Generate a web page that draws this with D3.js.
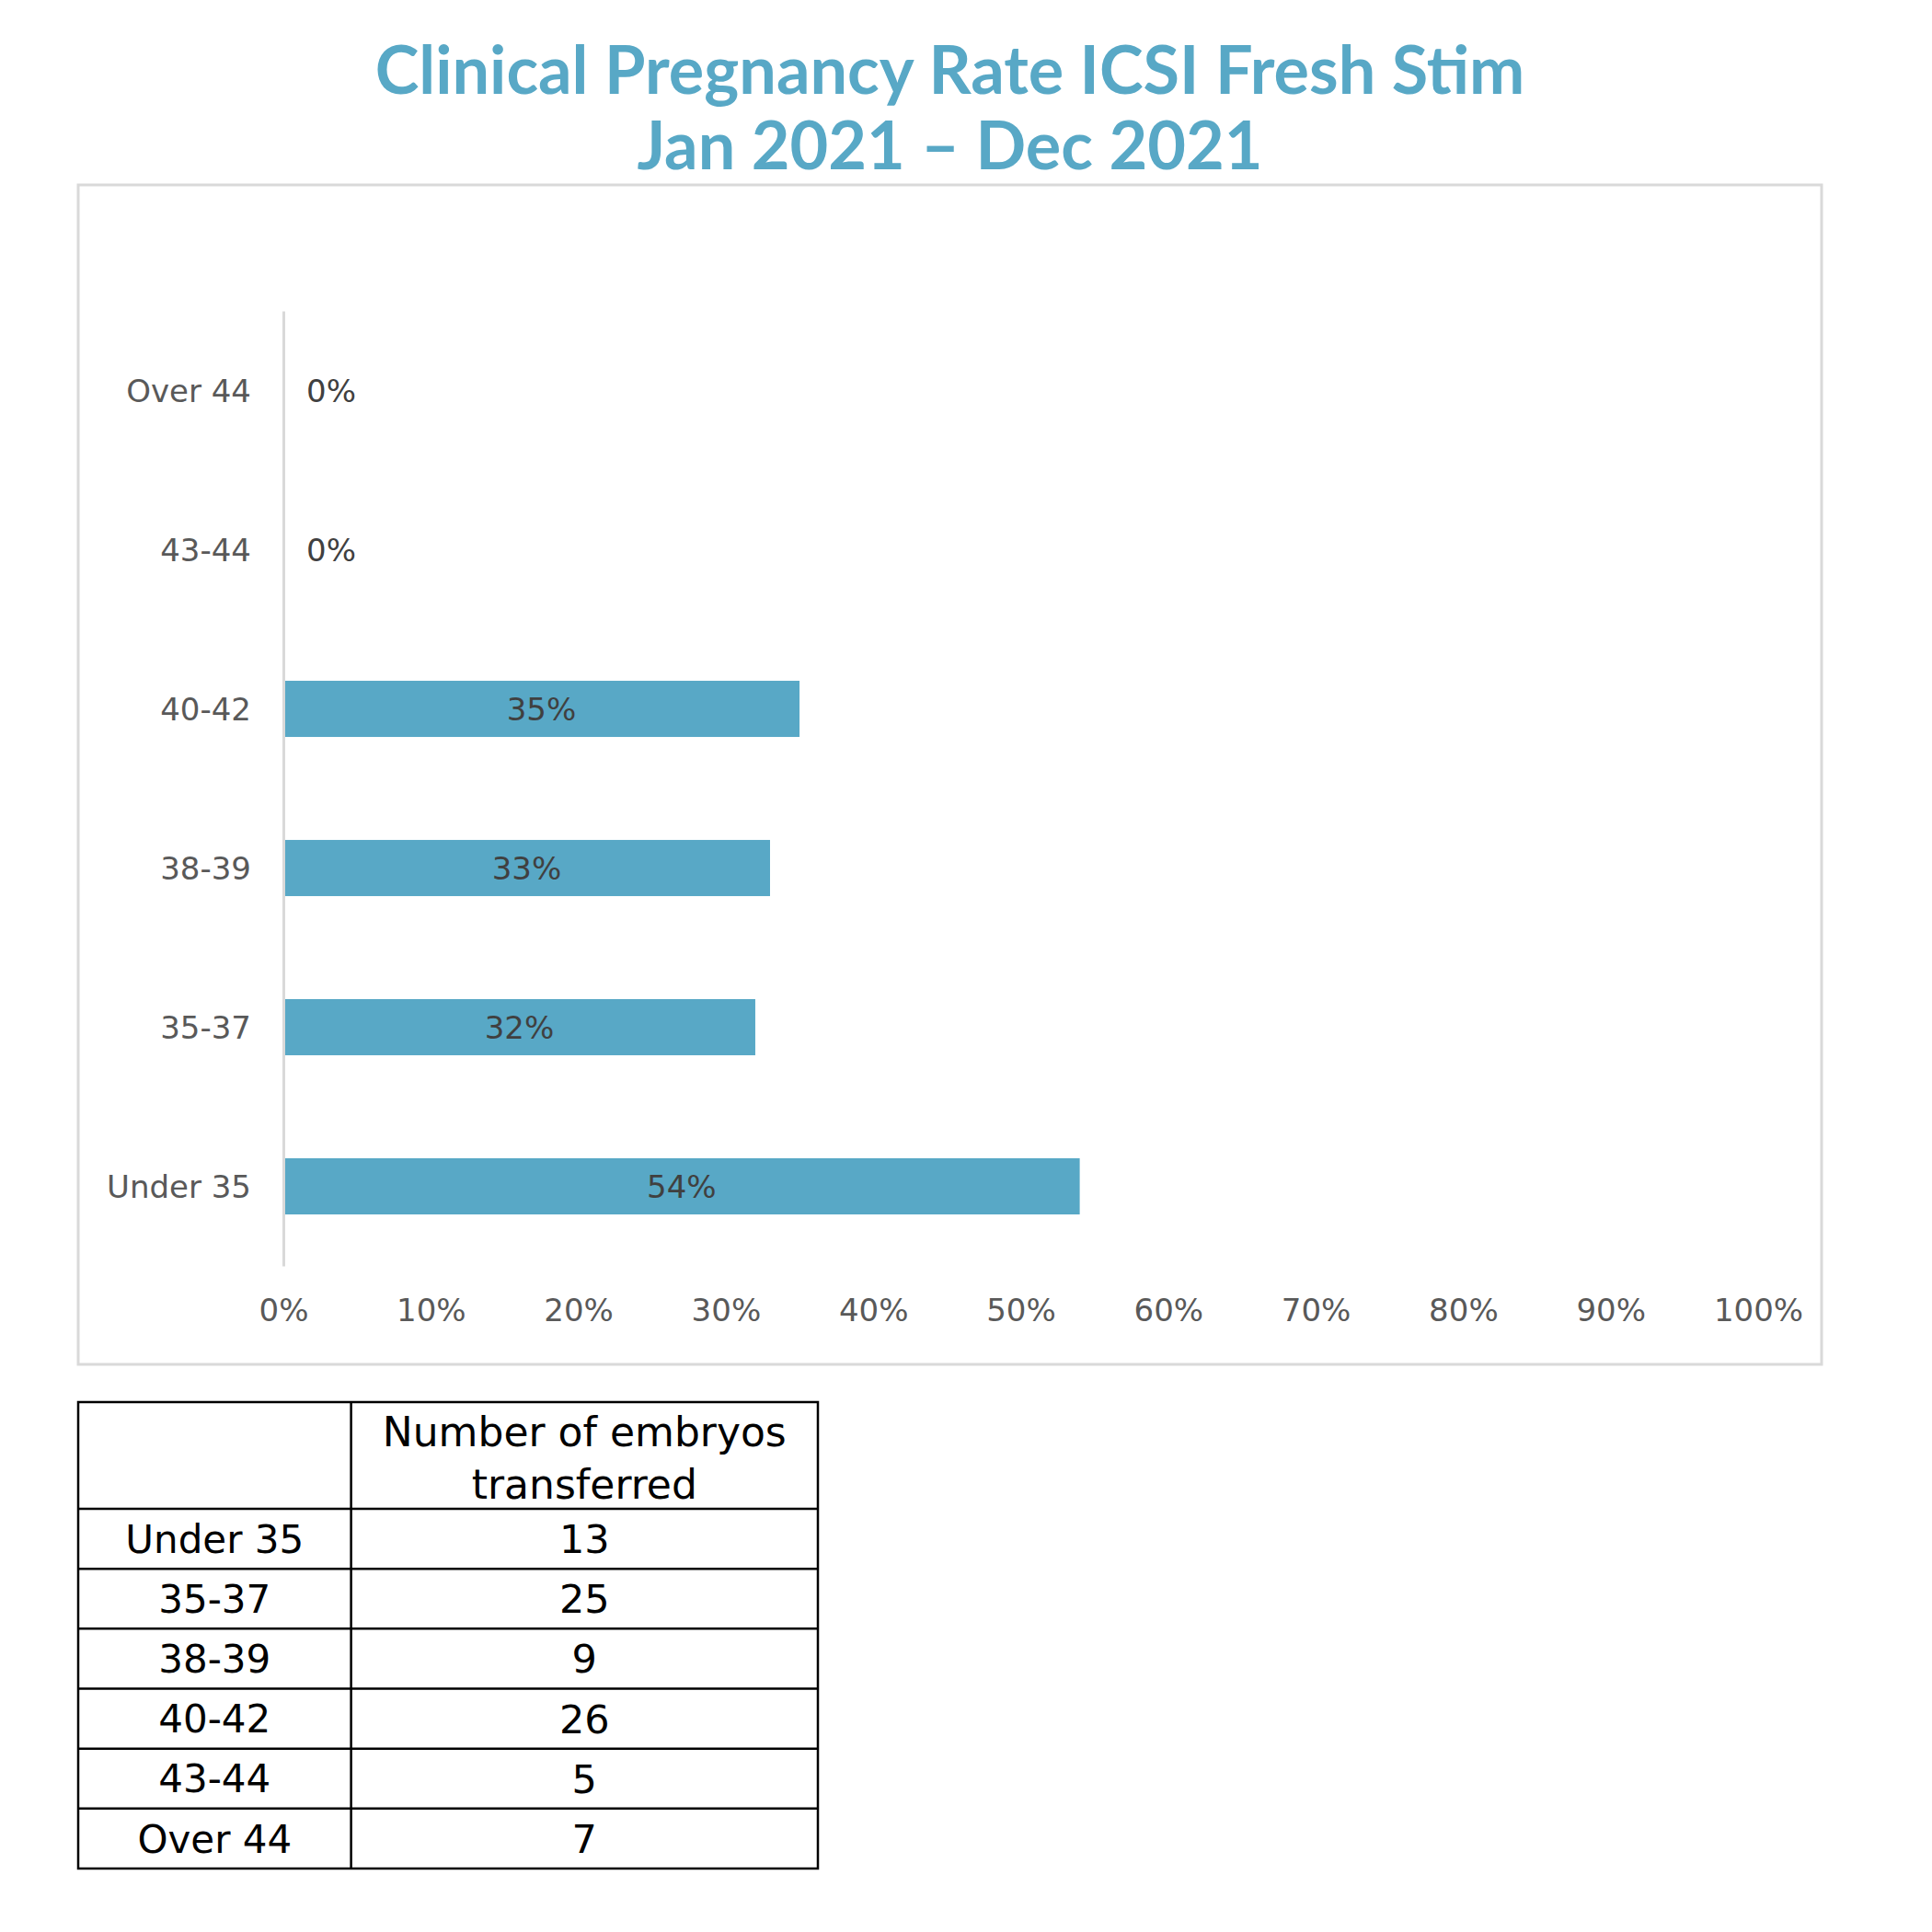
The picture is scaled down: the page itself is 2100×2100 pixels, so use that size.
<!DOCTYPE html>
<html>
<head>
<meta charset="utf-8">
<script src="https://cdn.jsdelivr.net/npm/d3@7"></script>
<style>
  body { margin: 0; background: #fff; }
  svg text { font-family: "DejaVu Sans", sans-serif; }
</style>
</head>
<body>
<div class="svg-container"></div>
<script>
// data
const categories = ["Under 35", "35-37", "38-39", "40-42", "43-44", "Over 44"];
const rates = [54, 32, 33, 35, 0, 0];
const embryos = [13, 25, 9, 26, 5, 7];
const xTicks = [0, 10, 20, 30, 40, 50, 60, 70, 80, 90, 100];
const titleLines = ["Clinical Pregnancy Rate ICSI Fresh Stim", "Jan 2021 \u2013 Dec 2021"];
const tableHeader = ["Number of embryos", "transferred"];

function load_contents(){
  const width = 2100, height = 2100;
  const accent = "#58a8c6";
  const gridGrey = "#d9d9d9";

  let dataset = categories.map((c, i) => ({cat: c, value: rates[i], n: embryos[i]}));

  let svg = d3.select(".svg-container")
    .append("svg")
    .attr("width", width)
    .attr("height", height)
    .attr("viewBox", "0 0 " + width + " " + height);

  svg.append("rect")
    .attr("width", width).attr("height", height)
    .attr("fill", "#fff");

  // chart frame
  const box = {x: 85, y: 201, w: 1895, h: 1282};
  svg.append("rect")
    .attr("x", box.x).attr("y", box.y)
    .attr("width", box.w).attr("height", box.h)
    .attr("fill", "#fff")
    .attr("stroke", gridGrey)
    .attr("stroke-width", 3);

  // title
  svg.append("g")
    .selectAll("text")
    .data(titleLines)
    .enter().append("text")
    .attr("x", box.x + box.w / 2)
    .attr("y", (d, i) => 102 + i * 82)
    .attr("text-anchor", "middle")
    .attr("font-size", "72px")
    .attr("font-weight", "bold")
    .style("font-family", "Lato, 'DejaVu Sans', sans-serif")
    .attr("fill", accent)
    .text(d => d);

  // scales
  let xScale = d3.scaleLinear()
    .domain([0, 100])
    .range([308, 1911]);

  let yScale = d3.scaleBand()
    .domain(categories.slice().reverse())
    .range([338, 1376])
    .paddingInner(0.647)
    .paddingOuter(0.3235);

  // x axis labels (no line, no ticks)
  let gXaxis = svg.append("g")
    .attr("transform", "translate(0," + 1376 + ")")
    .call(d3.axisBottom(xScale).tickValues(xTicks).tickSize(0).tickFormat(d => d + "%"));
  gXaxis.select(".domain").remove();
  gXaxis.selectAll("text")
    .attr("y", 48)
    .attr("dy", "0.36em")
    .attr("font-size", "34px")
    .attr("font-family", "DejaVu Sans, sans-serif")
    .attr("fill", "#595959");

  // bars
  svg.append("g")
    .selectAll(".bar")
    .data(dataset)
    .enter().append("rect")
    .classed("bar", true)
    .attr("x", xScale(0) + 1)
    .attr("y", d => yScale(d.cat))
    .attr("width", d => Math.max(0, xScale(d.value) - xScale(0) - 1))
    .attr("height", yScale.bandwidth())
    .attr("fill", accent);

  // y axis: category labels + grey base line
  let gYaxis = svg.append("g")
    .attr("transform", "translate(" + xScale(0) + ",0)")
    .call(d3.axisLeft(yScale).tickSize(0).tickSizeOuter(0).tickPadding(35));
  gYaxis.select(".domain")
    .attr("stroke", gridGrey)
    .attr("stroke-width", 3);
  gYaxis.selectAll("text")
    .attr("dy", "0.36em")
    .attr("font-size", "34px")
    .attr("font-family", "DejaVu Sans, sans-serif")
    .attr("fill", "#595959");

  // data labels, centred in the bar (zero bars get theirs just right of the axis)
  svg.append("g")
    .selectAll("text")
    .data(dataset)
    .enter().append("text")
    .attr("x", d => d.value === 0 ? xScale(0) + 25 : (xScale(0) + xScale(d.value)) / 2)
    .attr("y", d => yScale(d.cat) + yScale.bandwidth() / 2)
    .attr("dy", "0.36em")
    .attr("text-anchor", d => d.value === 0 ? "start" : "middle")
    .attr("font-size", "34px")
    .attr("fill", "#404040")
    .text(d => d.value + "%");

  // table below the chart
  const colX = [85, 381.6, 889];
  const tableTop = 1524, headerBottom = 1640;
  let rowScale = d3.scaleBand()
    .domain(categories)
    .range([headerBottom, 2031]);

  let gTable = svg.append("g").attr("id", "g-table");

  gTable.append("rect")
    .attr("x", colX[0]).attr("y", tableTop)
    .attr("width", colX[2] - colX[0])
    .attr("height", rowScale.range()[1] - tableTop)
    .attr("fill", "none")
    .attr("stroke", "#000")
    .attr("stroke-width", 2.5);

  gTable.append("line")
    .attr("x1", colX[1]).attr("x2", colX[1])
    .attr("y1", tableTop).attr("y2", rowScale.range()[1])
    .attr("stroke", "#000").attr("stroke-width", 2.5);

  gTable.selectAll(".row-line")
    .data(categories)
    .enter().append("line")
    .classed("row-line", true)
    .attr("x1", colX[0]).attr("x2", colX[2])
    .attr("y1", d => rowScale(d)).attr("y2", d => rowScale(d))
    .attr("stroke", "#000").attr("stroke-width", 2.5);

  gTable.selectAll(".head")
    .data(tableHeader)
    .enter().append("text")
    .classed("head", true)
    .attr("x", (colX[1] + colX[2]) / 2)
    .attr("y", (d, i) => 1556 + i * 57)
    .attr("dy", "0.36em")
    .attr("text-anchor", "middle")
    .attr("font-size", "44px")
    .attr("fill", "#000")
    .text(d => d);

  gTable.selectAll(".row-cat")
    .data(dataset)
    .enter().append("text")
    .classed("row-cat", true)
    .attr("x", (colX[0] + colX[1]) / 2)
    .attr("y", d => rowScale(d.cat) + rowScale.bandwidth() / 2)
    .attr("dy", "0.36em")
    .attr("text-anchor", "middle")
    .attr("font-size", "42px")
    .attr("fill", "#000")
    .text(d => d.cat);

  gTable.selectAll(".row-n")
    .data(dataset)
    .enter().append("text")
    .classed("row-n", true)
    .attr("x", (colX[1] + colX[2]) / 2)
    .attr("y", d => rowScale(d.cat) + rowScale.bandwidth() / 2)
    .attr("dy", "0.36em")
    .attr("text-anchor", "middle")
    .attr("font-size", "43px")
    .attr("fill", "#000")
    .text(d => d.n);
}

load_contents();
</script>
</body>
</html>
